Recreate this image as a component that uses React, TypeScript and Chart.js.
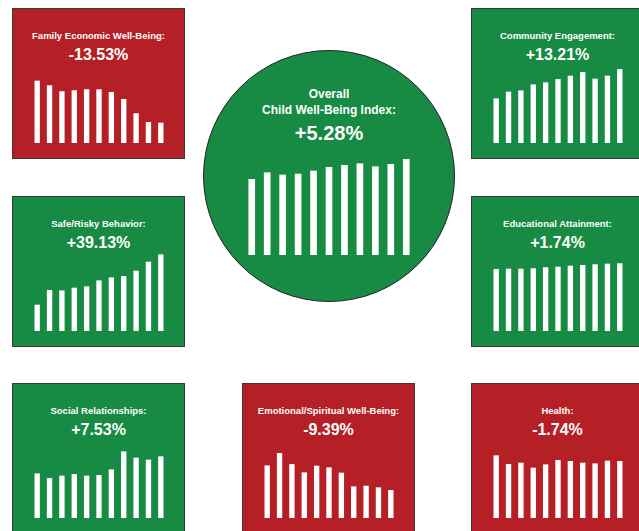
import React, { useEffect, useRef } from "react";
import { Chart, registerables } from "chart.js";

Chart.register(...registerables);

// Categories (11 periods, unlabeled in the reference)
const periods = ["1", "2", "3", "4", "5", "6", "7", "8", "9", "10", "11"];

// Series values (index units)
const overallValues = [75.7, 82.3, 80, 81, 84, 87.7, 89.7, 91.3, 88.3, 90.7, 95.7];
const familyEconomicValues = [62, 57.4, 51.4, 52.4, 53.4, 53.4, 50.7, 43.7, 29.4, 20.7, 20];
const communityValues = [44.3, 51, 52.3, 58.3, 60.3, 63.6, 67, 70.6, 64, 67, 73.6];
const safeRiskyValues = [26, 40.6, 40.3, 43, 44.3, 50.3, 53.3, 54.6, 60, 69, 76.3];
const educationValues = [61.7, 62, 62, 62.4, 63.4, 64, 65, 65.7, 66.4, 67, 67.4];
const socialValues = [44.3, 39.6, 42, 43.6, 42, 42.6, 48.3, 66.3, 60, 58, 61.3];
const emotionalValues = [52.3, 64.6, 53.6, 45.3, 52, 50.3, 45, 31.3, 32, 30.3, 27.6];
const healthValues = [62.3, 53.7, 55, 50, 53.3, 57.7, 56.7, 55, 54.3, 57, 56.7];

// Labels
const overallTitle = ["Overall", "Child Well-Being Index:"];
const overallChange = "+5.28%";

const RED = "#B51F26";
const GREEN = "#178A43";

type MiniProps = {
  values: number[];
  max: number;
  width: number;
  height: number;
  barThickness: number;
  left: number;
  top: number;
};

function MiniBars({ values, max, width, height, barThickness, left, top }: MiniProps) {
  const ref = useRef<HTMLCanvasElement | null>(null);
  useEffect(() => {
    if (!ref.current) return;
    const chart = new Chart(ref.current, {
      type: "bar",
      data: {
        labels: periods,
        datasets: [
          {
            data: values,
            backgroundColor: "#ffffff",
            borderWidth: 0,
            barThickness,
          },
        ],
      },
      options: {
        animation: false,
        responsive: false,
        devicePixelRatio: 1,
        layout: { padding: 0 },
        plugins: {
          legend: { display: false },
          tooltip: { enabled: false },
          title: { display: false },
        },
        scales: {
          x: { display: false, grid: { display: false } },
          y: { display: false, min: 0, max, grid: { display: false } },
        },
      },
    });
    return () => chart.destroy();
  }, [values, max, width, height, barThickness]);
  return (
    <canvas
      ref={ref}
      width={width}
      height={height}
      style={{ position: "absolute", left, top, width, height }}
    />
  );
}

type PanelProps = {
  x: number;
  y: number;
  color: string;
  name: string;
  change: string;
  values: number[];
};

const FONT = "'Liberation Sans', Arial, Helvetica, sans-serif";

function Panel({ x, y, color, name, change, values }: PanelProps) {
  return (
    <div
      style={{
        position: "absolute",
        left: x,
        top: y,
        width: 173,
        height: 151,
        boxSizing: "border-box",
        background: color,
        border: "1px solid #3a3a3a",
        fontFamily: FONT,
        color: "#fff",
      }}
    >
      <div
        style={{
          position: "absolute",
          left: 0,
          right: 0,
          top: 21,
          lineHeight: "12px",
          fontSize: 9.5,
          fontWeight: "bold",
          textAlign: "center",
          whiteSpace: "nowrap",
        }}
      >
        {name}
      </div>
      <div
        style={{
          position: "absolute",
          left: 0,
          right: 0,
          top: 36,
          lineHeight: "20px",
          fontSize: 16,
          fontWeight: "bold",
          textAlign: "center",
        }}
      >
        {change}
      </div>
      <MiniBars values={values} max={80} width={136} height={80} barThickness={4.7} left={18} top={54} />
    </div>
  );
}

export default function App() {
  return (
    <div
      style={{
        position: "fixed",
        left: 0,
        top: 0,
        width: 639,
        height: 531,
        overflow: "hidden",
        background: "#fff",
      }}
    >
      <Panel x={12} y={8} color={RED} name="Family Economic Well-Being:" change="-13.53%" values={familyEconomicValues} />
      <Panel x={471} y={8} color={GREEN} name="Community Engagement:" change="+13.21%" values={communityValues} />
      <Panel x={12} y={196} color={GREEN} name="Safe/Risky Behavior:" change="+39.13%" values={safeRiskyValues} />
      <Panel x={471} y={196} color={GREEN} name="Educational Attainment:" change="+1.74%" values={educationValues} />
      <Panel x={12} y={383} color={GREEN} name="Social Relationships:" change="+7.53%" values={socialValues} />
      <Panel x={242} y={383} color={RED} name="Emotional/Spiritual Well-Being:" change="-9.39%" values={emotionalValues} />
      <Panel x={471} y={383} color={RED} name="Health:" change="-1.74%" values={healthValues} />

      <div
        style={{
          position: "absolute",
          left: 203,
          top: 50,
          width: 252,
          height: 252,
          boxSizing: "border-box",
          borderRadius: "50%",
          background: GREEN,
          border: "1px solid #222",
          fontFamily: FONT,
          color: "#fff",
        }}
      />
      <div
        style={{
          position: "absolute",
          left: 203,
          width: 252,
          top: 87,
          lineHeight: "15.5px",
          fontSize: 12,
          fontWeight: "bold",
          textAlign: "center",
          color: "#fff",
          fontFamily: FONT,
        }}
      >
        <div>{overallTitle[0]}</div>
        <div>{overallTitle[1]}</div>
      </div>
      <div
        style={{
          position: "absolute",
          left: 203,
          width: 252,
          top: 121,
          lineHeight: "24px",
          fontSize: 20,
          fontWeight: "bold",
          textAlign: "center",
          color: "#fff",
          fontFamily: FONT,
        }}
      >
        {overallChange}
      </div>
      <MiniBars values={overallValues} max={100} width={170} height={100} barThickness={6} left={244} top={155} />
    </div>
  );
}
